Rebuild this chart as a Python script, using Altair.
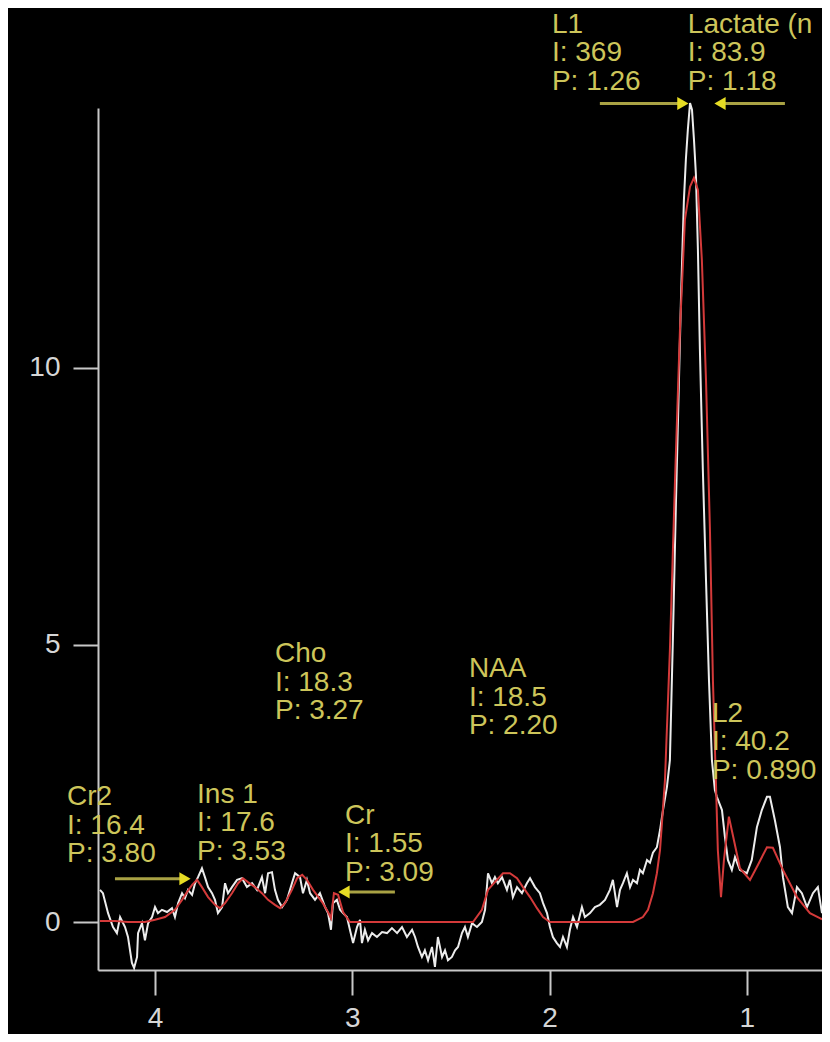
import altair as alt
import pandas as pd

# ---- spectrum (white, measured) ----
white_ppm = [4.279, 4.264, 4.238, 4.213, 4.193, 4.177, 4.152, 4.137, 4.117, 4.106, 4.091, 4.086, 4.066, 4.051, 4.035, 4.015,
             4.000, 3.985, 3.965, 3.939, 3.914, 3.899, 3.883, 3.863, 3.848, 3.833, 3.812, 3.797, 3.782, 3.762, 3.747, 3.731,
             3.711, 3.696, 3.681, 3.660, 3.645, 3.630, 3.610, 3.584, 3.559, 3.534, 3.508, 3.483, 3.458, 3.442, 3.427, 3.407,
             3.392, 3.377, 3.356, 3.331, 3.306, 3.290, 3.265, 3.250, 3.230, 3.214, 3.189, 3.164, 3.138, 3.123, 3.108, 3.098,
             3.078, 3.062, 3.047, 3.027, 3.012, 2.996, 2.976, 2.961, 2.951, 2.936, 2.920, 2.900, 2.875, 2.849, 2.824, 2.799,
             2.773, 2.748, 2.723, 2.697, 2.682, 2.667, 2.647, 2.632, 2.616, 2.596, 2.581, 2.566, 2.545, 2.530, 2.515, 2.495,
             2.479, 2.464, 2.444, 2.429, 2.414, 2.393, 2.368, 2.343, 2.327, 2.312, 2.292, 2.277, 2.262, 2.241, 2.216, 2.201,
             2.186, 2.165, 2.140, 2.115, 2.099, 2.074, 2.049, 2.033, 2.013, 1.998, 1.983, 1.963, 1.947, 1.932, 1.912, 1.897,
             1.881, 1.861, 1.836, 1.821, 1.795, 1.770, 1.745, 1.719, 1.694, 1.679, 1.658, 1.643, 1.628, 1.608, 1.592, 1.577,
             1.557, 1.542, 1.527, 1.506, 1.491, 1.476, 1.456, 1.440, 1.425, 1.405, 1.390, 1.375, 1.359, 1.344, 1.334, 1.319,
             1.309, 1.299, 1.288, 1.278, 1.268, 1.258, 1.248, 1.238, 1.223, 1.207, 1.192, 1.177, 1.162, 1.152, 1.126, 1.111,
             1.096, 1.076, 1.060, 1.035, 1.000, 0.975, 0.949, 0.924, 0.898, 0.883, 0.858, 0.832, 0.817, 0.792, 0.771, 0.746,
             0.721, 0.695, 0.665, 0.640, 0.619]
white_int = [0.58, 0.52, 0.16, -0.09, -0.20, 0.09, -0.09, -0.27, -0.74, -0.83, -0.63, -0.20, -0.02, -0.33, -0.02, 0.09,
             0.27, 0.16, 0.22, 0.18, 0.25, 0.09, 0.34, 0.52, 0.43, 0.58, 0.49, 0.70, 0.81, 0.97, 0.81, 0.63,
             0.52, 0.40, 0.16, 0.27, 0.70, 0.52, 0.63, 0.76, 0.79, 0.63, 0.70, 0.58, 0.81, 0.52, 0.88, 0.90,
             0.58, 0.40, 0.27, 0.40, 0.70, 0.88, 0.81, 0.52, 0.76, 0.52, 0.40, 0.52, 0.27, 0.16, -0.14, 0.34,
             0.40, 0.22, 0.16, 0.09, -0.14, -0.38, -0.09, 0.04, -0.38, -0.14, -0.33, -0.20, -0.27, -0.18, -0.20, -0.11,
             -0.20, -0.09, -0.27, -0.14, -0.27, -0.45, -0.63, -0.51, -0.69, -0.45, -0.81, -0.27, -0.63, -0.51, -0.69, -0.63,
             -0.51, -0.45, -0.20, -0.09, -0.27, -0.02, -0.09, 0.00, 0.22, 0.88, 0.70, 0.81, 0.70, 0.81, 0.58, 0.76,
             0.45, 0.63, 0.52, 0.70, 0.79, 0.63, 0.52, 0.34, 0.16, -0.09, -0.27, -0.38, -0.45, -0.27, -0.45, -0.14,
             0.09, -0.09, 0.27, 0.09, 0.16, 0.27, 0.31, 0.40, 0.58, 0.76, 0.27, 0.58, 0.70, 0.88, 0.63, 0.76,
             0.70, 0.94, 0.88, 1.12, 1.07, 1.25, 1.35, 1.66, 2.02, 2.44, 2.92, 5.09, 7.62, 9.78, 11.23, 13.03,
             13.76, 14.30, 14.78, 14.66, 14.12, 13.48, 12.13, 10.33, 8.16, 6.17, 4.37, 2.92, 2.38, 2.26, 2.02, 1.53,
             1.12, 0.94, 1.17, 0.94, 0.88, 1.12, 1.71, 2.02, 2.26, 2.26, 1.84, 1.35, 0.81, 0.27, 0.16, 0.63,
             0.52, 0.27, 0.52, 0.63, 0.16]

# ---- fitted model (red) ----
red_ppm = [4.279, 4.203, 4.137, 4.051, 4.000, 3.949, 3.899, 3.863, 3.838, 3.812, 3.787, 3.762, 3.731, 3.696, 3.671, 3.645,
           3.610, 3.579, 3.554, 3.529, 3.493, 3.458, 3.427, 3.392, 3.366, 3.341, 3.306, 3.280, 3.254, 3.230, 3.199, 3.153,
           3.123, 3.108, 3.093, 3.072, 3.047, 3.012, 2.758, 2.505, 2.388, 2.343, 2.312, 2.267, 2.236, 2.201, 2.165, 2.135,
           2.099, 2.064, 2.033, 1.998, 1.745, 1.577, 1.527, 1.501, 1.476, 1.456, 1.440, 1.415, 1.390, 1.364, 1.339, 1.314,
           1.288, 1.268, 1.248, 1.228, 1.207, 1.187, 1.172, 1.157, 1.147, 1.131, 1.116, 1.091, 1.071, 1.035, 0.984, 0.944,
           0.898, 0.868, 0.817, 0.746, 0.680, 0.630, 0.619]
red_int = [0.02, 0.02, 0.00, 0.00, 0.04, 0.09, 0.22, 0.40, 0.54, 0.67, 0.76, 0.63, 0.45, 0.31, 0.25, 0.34,
           0.52, 0.70, 0.79, 0.72, 0.63, 0.52, 0.40, 0.31, 0.25, 0.34, 0.58, 0.79, 0.85, 0.76, 0.58, 0.36,
           0.18, 0.07, 0.52, 0.49, 0.18, 0.00, 0.00, 0.00, 0.00, 0.22, 0.58, 0.76, 0.88, 0.88, 0.79, 0.63,
           0.45, 0.25, 0.09, 0.00, 0.00, 0.00, 0.09, 0.22, 0.52, 0.88, 1.30, 2.56, 4.91, 7.98, 10.69, 12.67,
           13.27, 13.43, 13.21, 11.95, 9.78, 7.08, 4.37, 2.56, 1.30, 0.45, 1.12, 1.90, 1.57, 0.97, 0.76, 1.03,
           1.35, 1.34, 0.94, 0.45, 0.16, 0.07, 0.05]

# ---- peak annotations (the Lactate label is cropped at the image edge in the source) ----
peak_names = ["L1", "Lactate (n", "Cho", "NAA", "L2", "Cr2", "Ins 1", "Cr"]
peak_I = ["369", "83.9", "18.3", "18.5", "40.2", "16.4", "17.6", "1.55"]
peak_P = ["1.26", "1.18", "3.27", "2.20", "0.890", "3.80", "3.53", "3.09"]
label_ppm = [1.988, 1.299, 3.392, 2.409, 1.177, 4.446, 3.787, 3.037]
label_int = [16.05, 16.05, 4.69, 4.42, 3.61, 2.11, 2.15, 1.77]

# ---- arrows pointing at fitted peaks ----
arrow_from = [1.745, 0.807, 4.203, 2.784]
arrow_to = [1.324, 1.136, 3.848, 3.042]
arrow_int = [14.77, 14.77, 0.78, 0.54]
arrow_shape = ["triangle-right", "triangle-left", "triangle-right", "triangle-left"]

white_df = pd.DataFrame({"ppm": white_ppm, "inten": white_int, "rank": list(range(len(white_ppm)))})
red_df = pd.DataFrame({"ppm": red_ppm, "inten": red_int, "rank": list(range(len(red_ppm)))})
lab_df = pd.DataFrame({
    "ppm": label_ppm, "inten": label_int,
    "txt": [f"{n}\nI: {i}\nP: {p}" for n, i, p in zip(peak_names, peak_I, peak_P)],
})
arr_df = pd.DataFrame({"ppm": arrow_from, "ppm2": arrow_to, "inten": arrow_int, "head": arrow_to,
                       "shape": arrow_shape})

FONT = "Liberation Sans"
AX = "#c8c8c8"
xscale = alt.Scale(domain=[0.619, 4.289], reverse=True, nice=False, zero=False)
yscale = alt.Scale(domain=[-0.866, 14.69], nice=False, zero=False)
xaxis = alt.Axis(values=[1, 2, 3, 4], title=None, grid=False, tickSize=25, labelPadding=9,
                 format="d")
yaxis = alt.Axis(values=[0, 5, 10], title=None, grid=False, tickSize=25, labelPadding=13,
                 format="d")

X = alt.X("ppm:Q", scale=xscale, axis=xaxis)
Y = alt.Y("inten:Q", scale=yscale, axis=yaxis)

white = alt.Chart(white_df).mark_line(color="#ececec", strokeWidth=2).encode(x=X, y=Y, order="rank:Q")
red = alt.Chart(red_df).mark_line(color="#d43a3a", strokeWidth=2).encode(x=X, y=Y, order="rank:Q")

shafts = alt.Chart(arr_df).mark_rule(color="#a9a244", strokeWidth=3).encode(
    x=X, x2="ppm2:Q", y=Y)
heads = alt.Chart(arr_df).mark_point(filled=True, color="#e6dc24", size=170, opacity=1).encode(
    x=alt.X("head:Q", scale=xscale, axis=xaxis), y=Y,
    shape=alt.Shape("shape:N", scale=None))

labels = alt.Chart(lab_df).mark_text(
    align="left", baseline="alphabetic", lineBreak="\n", lineHeight=28.5,
    font=FONT, fontSize=28, color="#cdc55a").encode(x=X, y=Y, text="txt:N")

chart = alt.layer(white, red, shafts, heads, labels).properties(
    width=724, height=862, background="black",
    padding={"left": 90, "top": 100, "right": 0, "bottom": 64},
    autosize=alt.AutoSizeParams(type="none"),
).configure_view(stroke=None).configure_axis(
    domainColor=AX, domainWidth=2, tickColor=AX, tickWidth=2,
    labelColor="#d6d6d6", labelFont=FONT, labelFontSize=28,
)

chart.save("out.html", embed_options={"renderer": "svg", "actions": False})
